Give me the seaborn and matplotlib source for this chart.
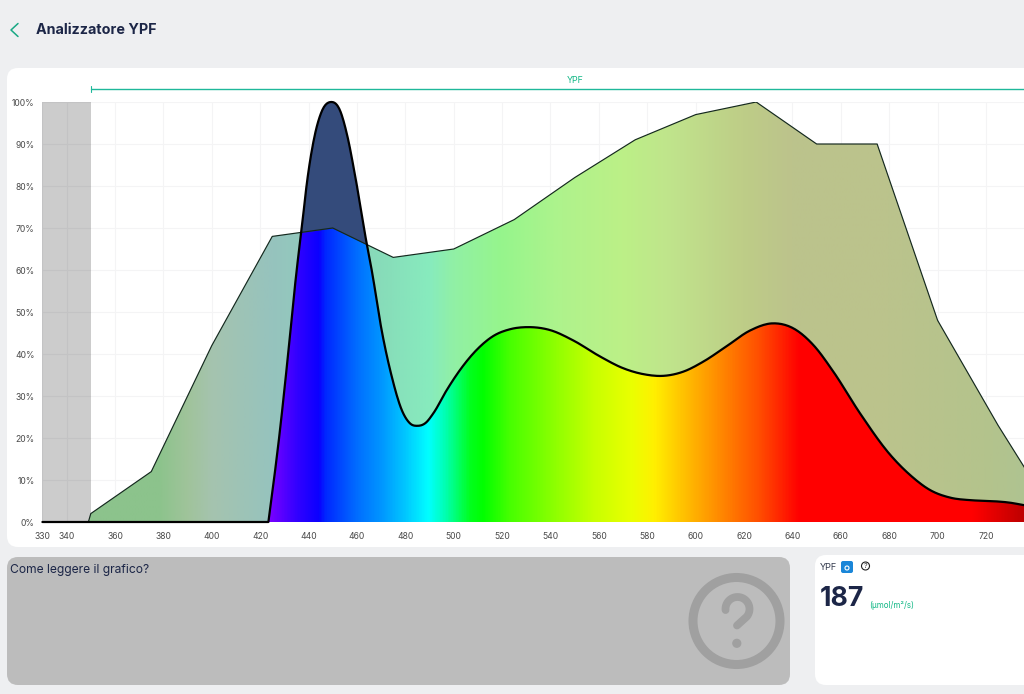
import numpy as np
import matplotlib
matplotlib.use("Agg")
import matplotlib.pyplot as plt
from matplotlib.colors import LinearSegmentedColormap
from matplotlib.patches import Circle, FancyBboxPatch, Polygon
import seaborn as sns

# reference curve (piecewise)
ref_nm = [349, 350, 375, 400, 425, 450, 475, 500, 525, 550, 575, 600, 625, 650, 675, 700, 725, 750]
ref_pct = [0, 2, 12, 42, 68, 70, 63, 65, 72, 82, 91, 97, 100, 90, 90, 48, 23, 0]

# lamp spectrum
led_nm = [330, 423.4, 428.2, 431.6, 435.1, 437.2, 439.2, 442, 445.4, 449.2, 453, 456, 459.2, 464, 466.1,
          470.2, 474.4, 478.5, 481.9, 485.1, 488.4, 491.6, 497.1, 502.6, 509.5, 516.4, 523.3, 530.9,
          539.8, 549.5, 560.5, 570.1, 578.4, 586.7, 594.9, 603.2, 612.9, 622.5, 632.1, 640.4, 648.7,
          656.9, 667.9, 680.4, 688.6, 696.9, 705.2, 713.4, 721.7, 729.9, 735.8]
led_pct = [0, 0, 21.9, 40.2, 60, 70, 80.2, 90.5, 97.7, 100, 98, 92, 82.6, 66.4, 60,
           45.7, 34.6, 26.7, 23.5, 22.9, 23.6, 25.9, 31.4, 36.2, 41, 44.3, 45.9, 46.4,
           45.7, 43.2, 39.4, 36.6, 35.2, 34.8, 35.8, 38.2, 41.9, 45.6, 47.3, 46.1, 42.1,
           35.8, 25.9, 16, 11.2, 7.6, 5.8, 5.2, 5, 4.6, 4]

x_ticks = [330, 340] + list(range(360, 721, 20))
y_ticks = list(range(0, 101, 10))
ypf_value = "187"

# colour stops: wavelength, rgb
spectrum_stops = [(423, (125, 0, 255)), (435, (50, 0, 255)), (444, (10, 0, 255)), (447, (0, 40, 255)),
                  (460, (0, 110, 255)), (470, (0, 150, 255)), (480, (0, 200, 255)), (489.5, (0, 255, 255)),
                  (497, (0, 255, 170)), (506.7, (0, 255, 30)), (512, (0, 255, 0)), (523, (70, 255, 0)),
                  (540, (135, 255, 0)), (558, (200, 255, 0)), (574, (235, 255, 0)), (583, (255, 240, 0)),
                  (592, (255, 205, 0)), (604, (255, 160, 0)), (626, (255, 80, 0)), (643, (255, 0, 0)),
                  (715, (255, 0, 0)), (736, (190, 0, 0))]
band_stops = [(349, (140, 195, 140)), (378, (140, 195, 140)), (390, (160, 195, 155)), (400, (165, 195, 175)),
              (425, (150, 195, 190)), (470, (135, 220, 185)), (490, (135, 235, 190)), (500, (145, 240, 165)),
              (520, (150, 245, 140)), (545, (175, 243, 140)), (570, (188, 240, 135)), (590, (192, 228, 140)),
              (620, (190, 205, 135)), (640, (188, 195, 140)), (680, (187, 195, 140)), (720, (180, 195, 140)),
              (736, (175, 195, 145))]

NAVY = "#1c2647"
TEAL = "#1fb89a"
GREY_ICON = "#a0a0a0"
XMIN, XMAX = 330, 735.7


def make_cmap(name, stops):
    lo, hi = stops[0][0], stops[-1][0]
    return LinearSegmentedColormap.from_list(
        name, [((w - lo) / (hi - lo), tuple(c / 255 for c in rgb)) for w, rgb in stops], N=512), lo, hi


def gradient_fill(ax, xs, ys, cmap, lo, hi, z):
    # gradient image cut to the area under a curve
    img = ax.imshow(np.linspace(0, 1, 800)[None, :], cmap=cmap, extent=(lo, hi, 0, 100),
                    aspect="auto", origin="lower", zorder=z, interpolation="bilinear")
    patch = Polygon(list(zip(xs, ys)) + [(xs[-1], 0), (xs[0], 0)], closed=True, transform=ax.transData)
    img.set_clip_path(patch)
    return patch


def smooth_line(xs, ys, steps=12):
    # hermite segments so the line bends softly between the read values
    xs, ys = np.asarray(xs, float), np.asarray(ys, float)
    slopes = np.gradient(ys, xs)
    px, py = [], []
    for i in range(len(xs) - 1):
        h = xs[i + 1] - xs[i]
        t = np.linspace(0, 1, steps, endpoint=False)
        px.append(xs[i] + t * h)
        py.append((2 * t**3 - 3 * t**2 + 1) * ys[i] + (t**3 - 2 * t**2 + t) * h * slopes[i]
                  + (-2 * t**3 + 3 * t**2) * ys[i + 1] + (t**3 - t**2) * h * slopes[i + 1])
    # no dip under the baseline
    return np.r_[np.concatenate(px), xs[-1]], np.maximum(np.r_[np.concatenate(py), ys[-1]], 0)


sns.set_theme(style="white")
plt.rcParams["font.family"] = ["Inter", "DejaVu Sans"]

fig = plt.figure(figsize=(10.24, 6.94), dpi=100, facecolor="#eeeff1")

# page layer, in pixels
bg = fig.add_axes([0, 0, 1, 1])
bg.set_xlim(0, 1024)
bg.set_ylim(694, 0)
bg.axis("off")
for x, y, w, h, col in [(7, 68, 1040, 479, "white"), (7, 557, 783, 128, "#bcbcbc"), (815, 555, 240, 130, "white")]:
    bg.add_patch(FancyBboxPatch((x, y), w, h, boxstyle="round,pad=0,rounding_size=11", fc=col, ec="none"))

bg.plot([18, 11, 18], [23.5, 30, 36.5], color="#18a884", lw=1.1)
bg.text(36, 30, "Analizzatore YPF", fontsize=10.3, fontweight="bold", color=NAVY, va="center")
bg.text(10, 570, "Come leggere il grafico?", fontsize=8.7, color=NAVY, va="center")

# big question mark, hook stroke + dot
bg.add_patch(Circle((736.5, 621), 43.5, fc="none", ec=GREY_ICON, lw=6.5))
ang = np.radians(np.linspace(185, -40, 40))
hook_x = 737.5 + 12 * np.cos(ang)
hook_y = 609 - 12 * np.sin(ang)
bg.plot(np.r_[hook_x, 737], np.r_[hook_y, 625.5], color=GREY_ICON, lw=5.6, solid_capstyle="round")
bg.add_patch(Circle((736.8, 643.3), 4.6, fc=GREY_ICON, ec="none"))

# YPF card
bg.text(820, 567.5, "YPF", fontsize=6.6, color="#333a4d", va="center")
bg.add_patch(FancyBboxPatch((841, 561), 12, 12, boxstyle="round,pad=0,rounding_size=2", fc="#1a86d8", ec="none"))
bg.add_patch(Circle((847, 568), 2, fc="none", ec="white", lw=0.8))
bg.add_patch(Circle((865.5, 566), 4, fc="none", ec="#222222", lw=0.8))
bg.text(865.5, 566, "?", fontsize=5, color="#222222", ha="center", va="center")
bg.text(819.5, 598.5, ypf_value, fontsize=19.2, fontweight="bold", color=NAVY, va="center")
bg.text(869.5, 605.5, "(µmol/m²/s)", fontsize=5.8, color="#12b886", va="center")

# chart
ax = fig.add_axes([42.4 / 1024, (694 - 522) / 694, (1024 - 42.4) / 1024, 420 / 694])
ax.patch.set_alpha(0)
sns.despine(ax=ax, left=True, bottom=True, right=True, top=True)

band_cmap, b_lo, b_hi = make_cmap("band", band_stops)
spec_cmap, s_lo, s_hi = make_cmap("spectrum", spectrum_stops)
led_x, led_y = smooth_line(led_nm, led_pct)

gradient_fill(ax, ref_nm, ref_pct, band_cmap, b_lo, b_hi, 2)
led_clip = gradient_fill(ax, led_x, led_y, spec_cmap, s_lo, s_hi, 3)

# part of the lamp peak that rises above the reference
peak = ax.fill_between(ref_nm, ref_pct, 100, color="#344b7b", lw=0, zorder=4)
peak.set_clip_path(led_clip)

sns.lineplot(x=ref_nm, y=ref_pct, ax=ax, color="#14281e", lw=0.85, estimator=None, sort=False, zorder=5)
led_line = sns.lineplot(x=led_x, y=led_y, ax=ax, color="black", lw=1.6, estimator=None, sort=False, zorder=6)
led_line.lines[-1].set_clip_on(False)  # baseline and peak keep their full width

ax.axvspan(330, 350, color="black", alpha=0.2, lw=0, zorder=1.5)

ax.set_xlim(XMIN, XMAX)
ax.set_ylim(0, 100)
ax.set_xticks(x_ticks)
ax.set_yticks(y_ticks)
ax.set_yticklabels([f"{v}%" for v in y_ticks])
ax.tick_params(axis="both", labelsize=6.2, labelcolor="#4a4a4a", length=0)
ax.tick_params(axis="x", pad=7)
ax.tick_params(axis="y", pad=5.5)
ax.grid(True, color="#f4f4f5", lw=0.8)
ax.set_axisbelow(True)

# YPF range bracket above the plot
tr = ax.get_xaxis_transform()
ax.plot([350, XMAX], [1.031, 1.031], transform=tr, color=TEAL, lw=1, clip_on=False)
ax.plot([350, 350], [1.024, 1.038], transform=tr, color=TEAL, lw=0.8, clip_on=False)
ax.text((350 + 750) / 2, 1.052, "YPF", transform=tr, fontsize=6.4, color="#12b886", ha="center", va="center")

fig.savefig("out.png", dpi=100, facecolor=fig.get_facecolor())
